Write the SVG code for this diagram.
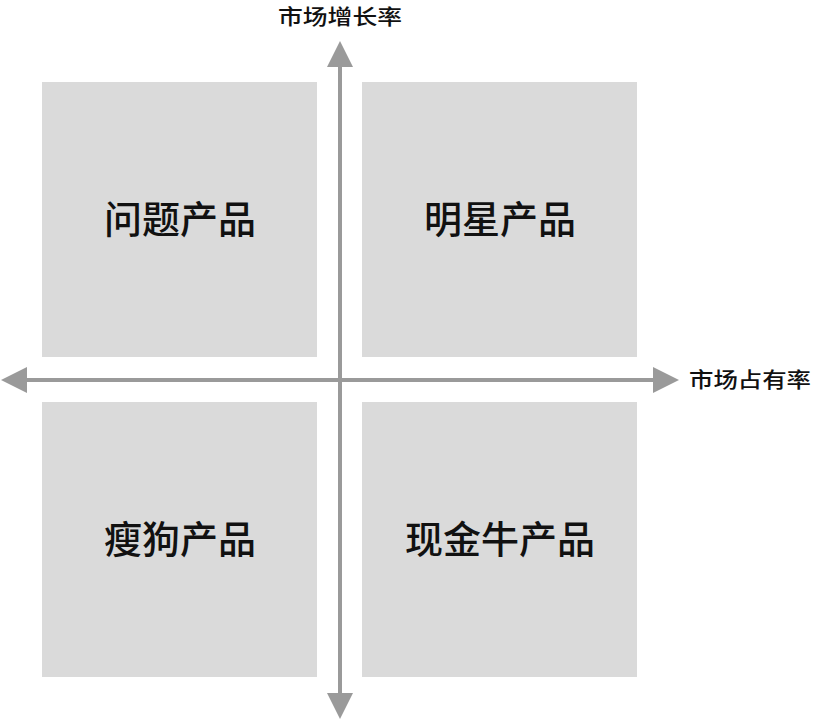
<svg xmlns="http://www.w3.org/2000/svg" width="813" height="720" viewBox="0 0 813 720">
<style>
.box{fill:#dadada}
.big{font-family:"Noto Sans CJK SC","Noto Sans",sans-serif;font-size:38px;font-weight:500;fill:#111;text-anchor:middle;dominant-baseline:central}
.small{font-family:"Noto Sans CJK SC","Noto Sans",sans-serif;font-size:21px;font-weight:500;fill:#111;dominant-baseline:central}
.axis{stroke:#9a9a9a;stroke-width:4;fill:none}
.head{fill:#9a9a9a}
</style>
<rect width="813" height="720" fill="#fff"/>
<g id="wenti"><rect class="box" x="42" y="82" width="275" height="275"/><text class="big" x="180" y="216">问题产品</text></g>
<g id="mingxing"><rect class="box" x="362" y="82" width="275" height="275"/><text class="big" x="500" y="216">明星产品</text></g>
<g id="shougou"><rect class="box" x="42" y="402" width="275" height="275"/><text class="big" x="180" y="536">瘦狗产品</text></g>
<g id="xianjinniu"><rect class="box" x="362" y="402" width="275" height="275"/><text class="big" x="500" y="536">现金牛产品</text></g>
<g id="connectors">
<line class="axis" x1="340" y1="66" x2="340" y2="694"/>
<line class="axis" x1="26" y1="380" x2="654" y2="380"/>
<polygon class="head" points="340,41 353,67 327,67"/>
<polygon class="head" points="340,719 353,693 327,693"/>
<polygon class="head" points="1,380 27,367 27,393"/>
<polygon class="head" points="679,380 653,367 653,393"/>
</g>
<g id="labels">
<text class="small" x="278" y="14.5" textLength="124" lengthAdjust="spacingAndGlyphs">市场增长率</text>
<text class="small" x="689" y="378" textLength="122" lengthAdjust="spacingAndGlyphs">市场占有率</text>
</g>
</svg>
